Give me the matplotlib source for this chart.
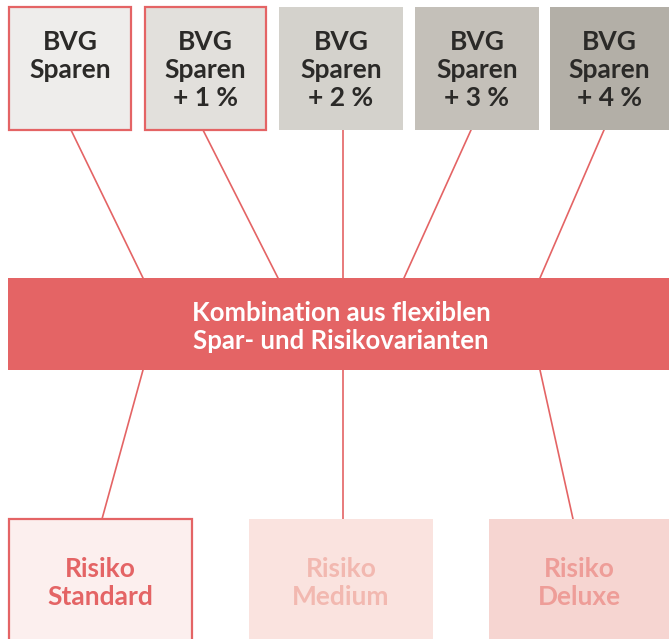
import matplotlib
matplotlib.use('Agg')
import matplotlib.pyplot as plt
from matplotlib.patches import Rectangle

RED = '#e46465'

top_labels = ['BVG\nSparen', 'BVG\nSparen\n+ 1 %', 'BVG\nSparen\n+ 2 %',
              'BVG\nSparen\n+ 3 %', 'BVG\nSparen\n+ 4 %']
top_fill = ['#eeedeb', '#e2e0dc', '#d4d2cc', '#c4c0b9', '#b3afa7']
top_border = [True, True, False, False, False]
top_x = [9, 145, 279, 415, 550]
top_w = [122, 121, 124, 124, 119]

mid_label = 'Kombination aus flexiblen\nSpar- und Risikovarianten'

bot_labels = ['Risiko\nStandard', 'Risiko\nMedium', 'Risiko\nDeluxe']
bot_fill = ['#fcefee', '#fae3df', '#f6d5d1']
bot_text = [RED, '#f2b8b0', '#ee9d98']
bot_border = [True, False, False]
bot_x = [9, 249, 489]
bot_w = [183, 184, 180]

# connector lines: (x at top, x at bottom)
up_links = [(71, 143), (203, 278), (343, 343), (471, 404), (604, 540)]
down_links = [(143, 102), (343, 343), (540, 573)]

fig = plt.figure(figsize=(6.69, 6.39), dpi=100)
ax = fig.add_axes([0, 0, 1, 1])
ax.set_xlim(0, 669)
ax.set_ylim(639, 0)
ax.axis('off')

FONT = 'Lato'

for x0, x1 in up_links:
    ax.plot([x0, x1], [130, 278], color=RED, lw=1.2, zorder=1)
for x0, x1 in down_links:
    ax.plot([x0, x1], [370, 519], color=RED, lw=1.2, zorder=1)

for lab, fc, b, x, w in zip(top_labels, top_fill, top_border, top_x, top_w):
    ax.add_patch(Rectangle((x, 7), w, 123, facecolor=fc,
                           edgecolor=RED if b else 'none', lw=1.6, zorder=2))
    ax.text(x + w / 2, 30, lab, ha='center', va='top', fontsize=19,
            fontweight='bold', family=FONT, color='#2b2a28',
            linespacing=1.2, zorder=3)

ax.add_patch(Rectangle((8, 278), 661, 92, facecolor=RED, edgecolor='none', zorder=2))
ax.text(341, 327, mid_label, ha='center', va='center', fontsize=18.5,
        fontweight='bold', family=FONT, color='white', linespacing=1.22, zorder=3)

for lab, fc, tc, b, x, w in zip(bot_labels, bot_fill, bot_text, bot_border, bot_x, bot_w):
    ax.add_patch(Rectangle((x, 519), w, 130, facecolor=fc,
                           edgecolor=RED if b else 'none', lw=1.6, zorder=2))
    ax.text(x + w / 2, 583, lab, ha='center', va='center', fontsize=19,
            fontweight='bold', family=FONT, color=tc, linespacing=1.22, zorder=3)

fig.savefig('out.png', dpi=100)
